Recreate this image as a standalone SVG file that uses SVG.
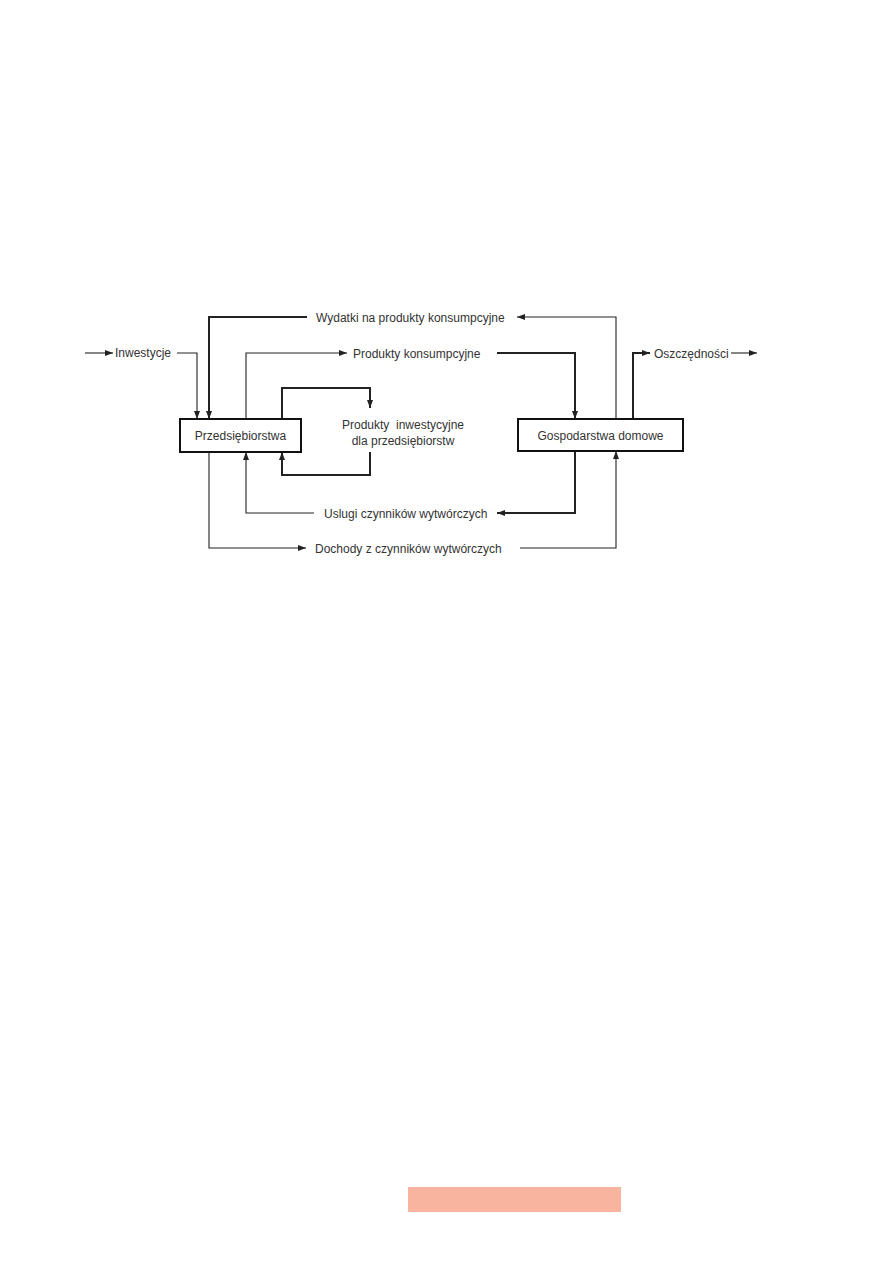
<svg xmlns="http://www.w3.org/2000/svg" width="893" height="1263" viewBox="0 0 893 1263">
<style>
text{font-family:"Liberation Sans",Arial,sans-serif;font-size:12px;fill:#333}
.thin{fill:none;stroke:#222;stroke-width:1.1}
.thick{fill:none;stroke:#222;stroke-width:2}
.box{fill:#fff;stroke:#111;stroke-width:2}
</style>
<defs>
<marker id="ah" viewBox="0 0 8 6" refX="8" refY="3" markerWidth="8" markerHeight="6" markerUnits="userSpaceOnUse" orient="auto">
<path d="M0,0 L8,3 L0,6 Z" fill="#222"/>
</marker>
</defs>
<rect x="0" y="0" width="893" height="1263" fill="#fff"/>
<g id="connectors">
<path class="thin" d="M85,353 H113" marker-end="url(#ah)"/>
<path class="thin" d="M177,353 H197 V419" marker-end="url(#ah)"/>
<path class="thin" d="M616,419 V317 H517" marker-end="url(#ah)"/>
<path class="thick" d="M307,317 H209 V419" marker-end="url(#ah)"/>
<path class="thin" d="M246,419 V353 H347" marker-end="url(#ah)"/>
<path class="thick" d="M497,353 H575 V419" marker-end="url(#ah)"/>
<path class="thick" d="M633,419 V353 H650" marker-end="url(#ah)"/>
<path class="thin" d="M731,353 H757" marker-end="url(#ah)"/>
<path class="thick" d="M282,419 V388 H370 V408" marker-end="url(#ah)"/>
<path class="thick" d="M370,452 V475 H282 V452" marker-end="url(#ah)"/>
<path class="thick" d="M575,451 V513 H497" marker-end="url(#ah)"/>
<path class="thin" d="M314,513 H246 V452" marker-end="url(#ah)"/>
<path class="thin" d="M209,452 V548 H306" marker-end="url(#ah)"/>
<path class="thin" d="M520,548 H616 V451" marker-end="url(#ah)"/>
</g>
<g id="node-przedsiebiorstwa">
<rect class="box" x="180" y="419" width="121" height="33"/>
<text x="240.5" y="440" text-anchor="middle">Przedsiębiorstwa</text>
</g>
<g id="node-gospodarstwa">
<rect class="box" x="518" y="419" width="165" height="32"/>
<text x="600.5" y="439.5" text-anchor="middle">Gospodarstwa domowe</text>
</g>
<g id="labels">
<text x="115" y="357">Inwestycje</text>
<text x="316" y="321.5">Wydatki na produkty konsumpcyjne</text>
<text x="353" y="357.5">Produkty konsumpcyjne</text>
<text x="654" y="357.5">Oszczędności</text>
<text x="403" y="429" text-anchor="middle" xml:space="preserve">Produkty  inwestycyjne</text>
<text x="403" y="445" text-anchor="middle">dla przedsiębiorstw</text>
<text x="324" y="517.5">Uslugi czynników wytwórczych</text>
<text x="315" y="552.5">Dochody z czynników wytwórczych</text>
</g>
<rect x="408" y="1187" width="213" height="25" fill="#F9B4A0"/>
</svg>
